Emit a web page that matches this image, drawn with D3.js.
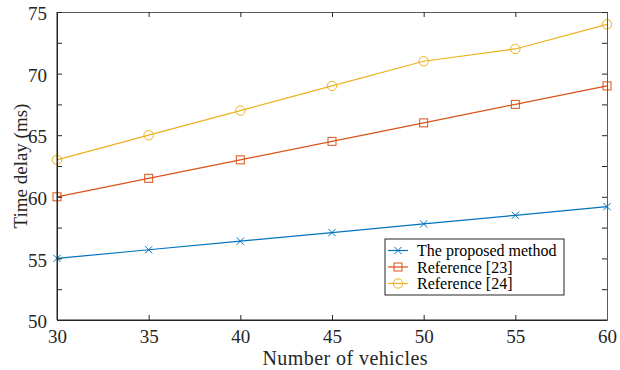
<!DOCTYPE html>
<html><head><meta charset="utf-8">
<script src="https://cdn.jsdelivr.net/npm/d3@7"></script>
<style>body{margin:0;background:#fff}svg{display:block}</style>
</head><body>
<svg id="c" width="620" height="370"></svg>
<script>
const vehicles = [30, 35, 40, 45, 50, 55, 60];
const proposed = [55.0, 55.7, 56.4, 57.1, 57.8, 58.5, 59.2];
const ref23 = [60.0, 61.5, 63.0, 64.5, 66.0, 67.5, 69.0];
const ref24 = [63.0, 65.0, 67.0, 69.0, 71.0, 72.0, 74.0];
const seriesNames = ["The proposed method", "Reference [23]", "Reference [24]"];
const xTicks = [30, 35, 40, 45, 50, 55, 60];
const yTicks = [50, 55, 60, 65, 70, 75];
const yMinor = [50, 52.5, 55, 57.5, 60, 62.5, 65, 67.5, 70, 72.5, 75];

const colors = ["#0072BD", "#D95319", "#EDB120"];
const markers = ["x", "square", "circle"];
const series = [proposed, ref23, ref24];

const svg = d3.select("#c");
const L = 57, R = 607, T = 12, B = 320;
const x = d3.scaleLinear().domain([30, 60]).range([L, R]);
const y = d3.scaleLinear().domain([50, 75]).range([B, T]);
const font = "'Liberation Serif', 'Times New Roman', serif";
const axisCol = "#262626";

function drawMarker(g, type, cx, cy, col) {
  if (type === "x") {
    const s = 3.6;
    g.append("path").attr("d", `M${cx-s},${cy-s}L${cx+s},${cy+s}M${cx-s},${cy+s}L${cx+s},${cy-s}`)
      .attr("stroke", col).attr("stroke-width", 1).attr("fill", "none");
  } else if (type === "square") {
    const s = 4;
    g.append("rect").attr("x", cx-s).attr("y", cy-s).attr("width", 2*s).attr("height", 2*s)
      .attr("stroke", col).attr("stroke-width", 1).attr("fill", "none");
  } else {
    g.append("circle").attr("cx", cx).attr("cy", cy).attr("r", 4.7)
      .attr("stroke", col).attr("stroke-width", 1).attr("fill", "none");
  }
}

const line = d3.line().x((d, i) => x(vehicles[i])).y(d => y(d));
series.forEach((s, k) => {
  const g = svg.append("g");
  g.append("path").datum(s).attr("d", line).attr("fill", "none")
    .attr("stroke", colors[k]).attr("stroke-width", 1.2);
  s.forEach((v, i) => drawMarker(g, markers[k], x(vehicles[i]), y(v), colors[k]));
});

const tl = 5;
const xb = svg.append("g").attr("transform", `translate(0,${B})`)
  .call(d3.axisBottom(x).tickValues(xTicks).tickSizeInner(-tl).tickSizeOuter(0).tickPadding(10));
const xt = svg.append("g").attr("transform", `translate(0,${T})`)
  .call(d3.axisTop(x).tickValues(xTicks).tickSizeInner(-tl).tickSizeOuter(0).tickFormat(""));
const yl = svg.append("g").attr("transform", `translate(${L},0)`)
  .call(d3.axisLeft(y).tickValues(yMinor).tickSizeInner(-tl).tickSizeOuter(0).tickPadding(10)
    .tickFormat(d => yTicks.includes(d) ? d : ""));
const yr = svg.append("g").attr("transform", `translate(${R},0)`)
  .call(d3.axisRight(y).tickValues(yMinor).tickSizeInner(-tl).tickSizeOuter(0).tickFormat(""));
[xb, xt, yl, yr].forEach(g => {
  g.selectAll("path.domain").attr("stroke", axisCol).attr("stroke-width", 1);
  g.selectAll("line").attr("stroke", axisCol).attr("stroke-width", 1);
  g.selectAll("text").attr("fill", axisCol).style("font-family", font).style("font-size", "19px");
});
yl.selectAll("text").attr("dy", "0.4em");
xt.select("path.domain").attr("stroke", "#5a5a5a");
yr.select("path.domain").attr("stroke", "#5a5a5a");
svg.append("line").attr("x1", L).attr("x2", R).attr("y1", B).attr("y2", B).attr("stroke", axisCol);
svg.append("line").attr("x1", L).attr("x2", L).attr("y1", T).attr("y2", B).attr("stroke", axisCol);

svg.append("text").attr("x", (L + R) / 2 + 13).attr("y", 365).attr("text-anchor", "middle")
  .style("font-family", font).style("font-size", "20px").attr("fill", axisCol)
  .attr("textLength", 165).attr("lengthAdjust", "spacing").text("Number of vehicles");
svg.append("text").attr("transform", `translate(27,${(T + B) / 2}) rotate(-90)`).attr("text-anchor", "middle")
  .style("font-family", font).style("font-size", "19px").attr("fill", axisCol).text("Time delay (ms)");

const lg = svg.append("g");
lg.append("rect").attr("x", 385).attr("y", 239).attr("width", 179).attr("height", 56)
  .attr("fill", "#fff").attr("stroke", axisCol).attr("stroke-width", 1);
const rowY = [250.5, 267, 283.5];
seriesNames.forEach((n, k) => {
  lg.append("line").attr("x1", 388).attr("x2", 408).attr("y1", rowY[k]).attr("y2", rowY[k])
    .attr("stroke", colors[k]).attr("stroke-width", 1.2);
  drawMarker(lg, markers[k], 398, rowY[k], colors[k]);
  lg.append("text").attr("x", 417).attr("y", rowY[k]).attr("dy", "0.35em")
    .style("font-family", font).style("font-size", "16px").attr("fill", "#000").text(n);
});
</script>
</body></html>
